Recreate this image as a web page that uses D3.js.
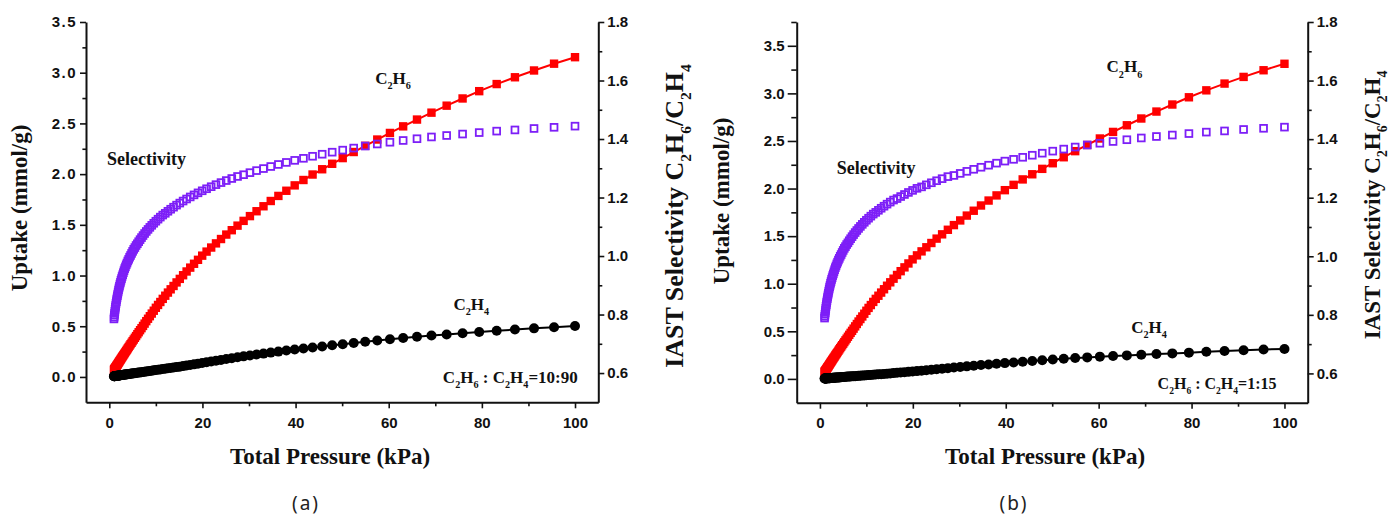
<!DOCTYPE html>
<html lang="en">
<head>
<meta charset="utf-8" />
<title>IAST selectivity</title>
<script src="https://d3js.org/d3.v7.min.js"></script>
<style>
  body { margin: 0; background: #fff; }
  svg { display: block; }
  .tick text { font-family: "Liberation Sans", Arial, sans-serif; font-weight: bold; font-size: 15px; fill: #111; }
  .ttl { font-family: "Liberation Serif", "Times New Roman", serif; font-weight: bold; fill: #111; }
</style>
</head>
<body>
<svg id="chart" width="1389" height="516"></svg>
<script>
// total pressure (kPa), shared by both panels
const pressure = [1.000,1.047,1.096,1.148,1.202,1.259,1.318,1.380,1.445,1.514,1.585,1.660,1.738,1.820,1.905,1.995,2.089,2.188,2.291,2.399,2.512,2.630,2.754,2.884,3.020,
  3.162,3.311,3.467,3.631,3.802,3.981,4.169,4.365,4.571,4.786,5.012,5.248,5.495,5.754,6.026,6.310,6.607,6.918,7.244,7.586,7.943,8.318,8.710,9.120,9.550,
  10.00,10.47,10.96,11.48,12.02,12.59,13.18,13.80,14.45,15.14,15.85,16.60,17.38,18.20,19.05,19.95,20.89,21.88,22.91,23.99,25.12,26.30,27.54,28.84,30.20,31.62,33.11,34.67,36.31,38.02,39.81,41.69,43.65,45.71,47.86,50.12,52.48,54.95,57.54,60.26,63.10,66.07,69.18,72.44,75.86,79.43,83.18,87.10,91.20,95.50,100.0];

// panel (a) C2H6 : C2H4 = 10:90
const c2h6A = [0.070,0.073,0.077,0.080,0.084,0.088,0.092,0.096,0.101,0.106,0.112,0.117,0.122,0.128,0.135,0.141,0.148,0.155,0.163,0.170,0.178,0.187,0.196,0.205,0.214,
  0.224,0.235,0.246,0.257,0.269,0.282,0.295,0.309,0.323,0.337,0.353,0.369,0.386,0.403,0.422,0.441,0.461,0.481,0.503,0.526,0.550,0.574,0.599,0.625,0.653,
  0.682,0.710,0.739,0.770,0.801,0.832,0.864,0.897,0.932,0.967,1.003,1.040,1.078,1.116,1.155,1.196,1.236,1.276,1.317,1.360,1.404,1.447,1.492,1.539,1.586,1.634,1.683,1.735,1.785,1.836,1.889,1.942,1.996,2.048,2.102,2.158,2.218,2.279,2.341,2.406,2.471,2.538,2.606,2.675,2.746,2.818,2.888,2.955,3.022,3.089,3.153];
const c2h4A = [0.007,0.007,0.008,0.008,0.008,0.009,0.009,0.010,0.010,0.010,0.011,0.011,0.012,0.012,0.013,0.013,0.014,0.015,0.016,0.016,0.017,0.018,0.019,0.020,0.021,
  0.022,0.023,0.024,0.025,0.026,0.027,0.028,0.030,0.031,0.033,0.034,0.036,0.037,0.039,0.041,0.043,0.045,0.047,0.049,0.052,0.054,0.057,0.059,0.062,0.065,
  0.068,0.071,0.074,0.078,0.081,0.085,0.089,0.093,0.097,0.101,0.107,0.112,0.118,0.124,0.131,0.138,0.145,0.152,0.160,0.168,0.177,0.185,0.194,0.203,0.212,0.221,0.230,0.240,0.250,0.260,0.271,0.281,0.291,0.301,0.312,0.322,0.334,0.347,0.359,0.371,0.384,0.396,0.408,0.419,0.431,0.444,0.456,0.467,0.479,0.490,0.502];
const selA = [0.785,0.791,0.798,0.804,0.811,0.818,0.825,0.831,0.838,0.844,0.851,0.857,0.864,0.870,0.877,0.884,0.891,0.897,0.904,0.910,0.917,0.923,0.930,0.936,0.943,
  0.950,0.957,0.963,0.970,0.976,0.983,0.989,0.996,1.002,1.009,1.016,1.023,1.029,1.036,1.042,1.049,1.056,1.063,1.070,1.077,1.084,1.091,1.098,1.105,1.112,
  1.119,1.126,1.133,1.140,1.146,1.153,1.160,1.167,1.174,1.181,1.188,1.195,1.202,1.209,1.216,1.223,1.230,1.237,1.244,1.251,1.258,1.265,1.272,1.278,1.285,1.292,1.299,1.306,1.313,1.320,1.327,1.334,1.341,1.348,1.355,1.362,1.369,1.376,1.383,1.389,1.395,1.401,1.407,1.412,1.417,1.422,1.427,1.431,1.436,1.440,1.444];

// panel (b) C2H6 : C2H4 = 1:15
const c2h6B = [0.074,0.077,0.081,0.084,0.088,0.092,0.097,0.101,0.106,0.112,0.118,0.123,0.128,0.134,0.142,0.148,0.155,0.163,0.171,0.179,0.187,0.196,0.206,0.215,0.225,
  0.235,0.247,0.258,0.270,0.282,0.296,0.310,0.324,0.339,0.354,0.370,0.387,0.405,0.423,0.443,0.463,0.484,0.505,0.528,0.552,0.577,0.603,0.629,0.656,0.685,
  0.716,0.746,0.776,0.809,0.841,0.874,0.907,0.942,0.979,1.015,1.053,1.092,1.132,1.172,1.213,1.256,1.298,1.340,1.383,1.428,1.474,1.519,1.567,1.616,1.665,1.716,1.767,1.822,1.874,1.928,1.983,2.039,2.096,2.150,2.207,2.266,2.329,2.393,2.458,2.526,2.595,2.665,2.736,2.809,2.883,2.959,3.032,3.103,3.173,3.243,3.311];
const c2h4B = [0.004,0.004,0.004,0.004,0.005,0.005,0.005,0.005,0.006,0.006,0.006,0.006,0.007,0.007,0.008,0.008,0.008,0.008,0.009,0.009,0.010,0.010,0.011,0.011,0.012,
  0.012,0.013,0.014,0.015,0.015,0.016,0.016,0.017,0.018,0.019,0.020,0.021,0.022,0.023,0.024,0.025,0.026,0.027,0.028,0.029,0.030,0.032,0.033,0.035,0.036,
  0.038,0.040,0.042,0.044,0.046,0.048,0.050,0.052,0.055,0.058,0.061,0.064,0.067,0.070,0.074,0.078,0.082,0.087,0.091,0.096,0.102,0.107,0.113,0.119,0.126,0.132,0.138,0.146,0.152,0.159,0.166,0.173,0.181,0.189,0.196,0.204,0.211,0.219,0.226,0.234,0.241,0.247,0.254,0.261,0.268,0.276,0.285,0.294,0.302,0.309,0.314];
const selB = [0.789,0.795,0.802,0.808,0.815,0.822,0.829,0.835,0.842,0.848,0.855,0.861,0.868,0.874,0.881,0.888,0.895,0.901,0.908,0.914,0.921,0.927,0.934,0.940,0.947,
  0.954,0.961,0.967,0.974,0.980,0.987,0.993,1.000,1.006,1.013,1.020,1.027,1.033,1.040,1.046,1.053,1.060,1.067,1.074,1.081,1.088,1.095,1.102,1.109,1.116,
  1.123,1.130,1.137,1.144,1.150,1.157,1.164,1.171,1.178,1.185,1.192,1.197,1.204,1.211,1.218,1.225,1.232,1.237,1.244,1.251,1.258,1.265,1.272,1.276,1.283,1.290,1.297,1.304,1.311,1.318,1.325,1.331,1.338,1.345,1.352,1.359,1.366,1.373,1.380,1.386,1.392,1.398,1.404,1.409,1.414,1.419,1.424,1.428,1.433,1.437,1.441];

// tick values
const pressTicks = [0, 20, 40, 60, 80, 100];
const pressMinor = [10, 30, 50, 70, 90];
const uptakeTicks = [0, 0.5, 1.0, 1.5, 2.0, 2.5, 3.0, 3.5];
const uptakeMinorA = [0.25, 0.75, 1.25, 1.75, 2.25, 2.75, 3.25];
const uptakeMinorB = [0.25, 0.75, 1.25, 1.75, 2.25, 2.75, 3.25, 3.75];
const selTicks = [0.6, 0.8, 1.0, 1.2, 1.4, 1.6, 1.8];
const selMinor = [0.7, 0.9, 1.1, 1.3, 1.5, 1.7];

const RED = "#ff0000", PURPLE = "#7d1ff7", BLACK = "#000";

const svg = d3.select("#chart");
svg.append("rect").attr("width", 1389).attr("height", 516).attr("fill", "#fff");

// text with subscripts: parts beginning with "_" are lowered
function richText(sel, parts, size) {
  let down = false;
  parts.forEach(p => {
    const sub = p.startsWith("_");
    let dy = 0;
    if (sub && !down) { dy = size * 0.3; down = true; }
    else if (!sub && down) { dy = -size * 0.3; down = false; }
    sel.append("tspan").attr("dy", dy)
      .attr("font-size", sub ? size * 0.6 : size)
      .text(sub ? p.slice(1) : p);
  });
}

function drawPanel(cfg) {
  const x = d3.scaleLinear().domain([-5, 105]).range([cfg.left, cfg.right]);
  const yL = d3.scaleLinear().domain(cfg.upDomain).range([cfg.bottom, cfg.top]);
  const yR = d3.scaleLinear().domain([0.5, 1.8]).range([cfg.bottom, cfg.top]);
  const g = svg.append("g");

  // axes
  function styleAxis(a) {
    a.select(".domain").attr("stroke", "#111").attr("stroke-width", 2);
    a.selectAll(".tick line").attr("stroke", "#111").attr("stroke-width", 1.6);
  }
  const ax = g.append("g").attr("transform", `translate(0,${cfg.bottom})`)
    .call(d3.axisBottom(x).tickValues(pressTicks).tickFormat(d3.format("d")).tickSize(6).tickSizeOuter(0).tickPadding(9));
  styleAxis(ax);
  g.append("g").attr("transform", `translate(0,${cfg.bottom})`)
    .call(d3.axisBottom(x).tickValues(pressMinor).tickFormat("").tickSize(4))
    .call(a => { a.select(".domain").remove(); styleAxis(a); });

  const ay = g.append("g").attr("transform", `translate(${cfg.left},0)`)
    .call(d3.axisLeft(yL).tickValues(uptakeTicks).tickFormat(d3.format(".1f")).tickSize(cfg.tick).tickSizeOuter(0).tickPadding(3));
  styleAxis(ay);
  ay.selectAll(".tick text").attr("letter-spacing", cfg.tickSpacing);
  g.append("g").attr("transform", `translate(${cfg.left},0)`)
    .call(d3.axisLeft(yL).tickValues(cfg.upMinor).tickFormat("").tickSize(cfg.tick * 0.6))
    .call(a => { a.select(".domain").remove(); styleAxis(a); });

  const ar = g.append("g").attr("transform", `translate(${cfg.right},0)`)
    .call(d3.axisRight(yR).tickValues(selTicks).tickFormat(d3.format(".1f")).tickSize(6).tickSizeOuter(0).tickPadding(3));
  styleAxis(ar);
  g.append("g").attr("transform", `translate(${cfg.right},0)`)
    .call(d3.axisRight(yR).tickValues(selMinor).tickFormat("").tickSize(4))
    .call(a => { a.select(".domain").remove(); styleAxis(a); });

  // series
  const ptsR = pressure.map((p, i) => [p, cfg.c2h6[i]]);
  const ptsK = pressure.map((p, i) => [p, cfg.c2h4[i]]);
  const ptsS = pressure.map((p, i) => [p, cfg.sel[i]]);
  const line = d3.line().x(d => x(d[0])).y(d => yL(d[1]));

  g.append("path").datum(ptsR).attr("d", line).attr("fill", "none").attr("stroke", RED).attr("stroke-width", 2);
  g.append("g").selectAll("rect").data(ptsR).join("rect")
    .attr("x", d => x(d[0]) - 4.2).attr("y", d => yL(d[1]) - 4.2)
    .attr("width", 8.4).attr("height", 8.4).attr("fill", RED);

  g.append("path").datum(ptsK).attr("d", line).attr("fill", "none").attr("stroke", BLACK).attr("stroke-width", 2);
  g.append("g").selectAll("circle").data(ptsK).join("circle")
    .attr("cx", d => x(d[0])).attr("cy", d => yL(d[1])).attr("r", 5).attr("fill", BLACK);

  g.append("g").selectAll("rect").data(ptsS).join("rect")
    .attr("x", d => x(d[0]) - 3.4).attr("y", d => yR(d[1]) - 3.4)
    .attr("width", 6.8).attr("height", 6.8)
    .attr("fill", "none").attr("stroke", PURPLE).attr("stroke-width", 1.8);

  // annotations
  const lab = (pos, color, anchor) => g.append("text").attr("class", "ttl")
    .attr("x", x(pos[0])).attr("y", yL(pos[1])).attr("fill", color).attr("text-anchor", anchor || "start");
  richText(lab(cfg.c2h6Lab, "#e8161b"), ["C", "_2", "H", "_6"], 17);
  lab(cfg.selLab, PURPLE).attr("font-size", 18).text("Selectivity");
  richText(lab(cfg.c2h4Lab, "#111"), ["C", "_2", "H", "_4"], 17);
  richText(lab(cfg.ratioLab, "#111", "end"),
    ["C", "_2", "H", "_6", " : C", "_2", "H", "_4", "=" + cfg.ratio], cfg.ratioSize);

  // axis titles
  g.append("text").attr("class", "ttl").attr("x", cfg.bottomTitleX).attr("y", 464)
    .attr("text-anchor", "middle").attr("font-size", 23).text("Total Pressure (kPa)");
  g.append("text").attr("class", "ttl").attr("text-anchor", "middle").attr("font-size", 23)
    .attr("transform", `translate(${cfg.leftTitleX},${cfg.leftTitleY}) rotate(-90)`)
    .text("Uptake (mmol/g)");
  richText(g.append("text").attr("class", "ttl").attr("text-anchor", "middle")
    .attr("transform", `translate(${cfg.rightTitleX},${cfg.rightTitleY}) rotate(-90)`),
    ["IAST Selectivity C", "_2", "H", "_6", "/C", "_2", "H", "_4"], cfg.rightTitleSize);

  g.append("text").attr("x", cfg.capX).attr("y", 510).attr("text-anchor", "middle")
    .attr("font-family", "'Noto Sans', 'DejaVu Sans', sans-serif").attr("font-size", 19)
    .attr("letter-spacing", 2).attr("fill", "#222").text(cfg.caption);
}

drawPanel({
  left: 86, right: 598.3, top: 22, bottom: 402.3, tick: 6, tickSpacing: 1.5,
  upDomain: [-0.25, 3.5], upMinor: uptakeMinorA,
  c2h6: c2h6A, c2h4: c2h4A, sel: selA,
  c2h6Lab: [57.1, 2.89], selLab: [-0.5, 2.09], c2h4Lab: [73.9, 0.66], ratioLab: [100.6, -0.06],
  ratio: "10:90", ratioSize: 17,
  bottomTitleX: 330, leftTitleX: 27, leftTitleY: 208, rightTitleX: 683, rightTitleY: 216, rightTitleSize: 26,
  capX: 306, caption: "(a)"
});
drawPanel({
  left: 796.7, right: 1307.7, top: 22, bottom: 402.7, tick: 9, tickSpacing: 0,
  upDomain: [-0.25, 3.75], upMinor: uptakeMinorB,
  c2h6: c2h6B, c2h4: c2h4B, sel: selB,
  c2h6Lab: [61.7, 3.22], selLab: [3.6, 2.15], c2h4Lab: [67, 0.48], ratioLab: [98.3, -0.11],
  ratio: "1:15", ratioSize: 16,
  bottomTitleX: 1045, leftTitleX: 729, leftTitleY: 201, rightTitleX: 1380, rightTitleY: 205, rightTitleSize: 23,
  capX: 1014, caption: "(b)"
});
</script>
</body>
</html>
